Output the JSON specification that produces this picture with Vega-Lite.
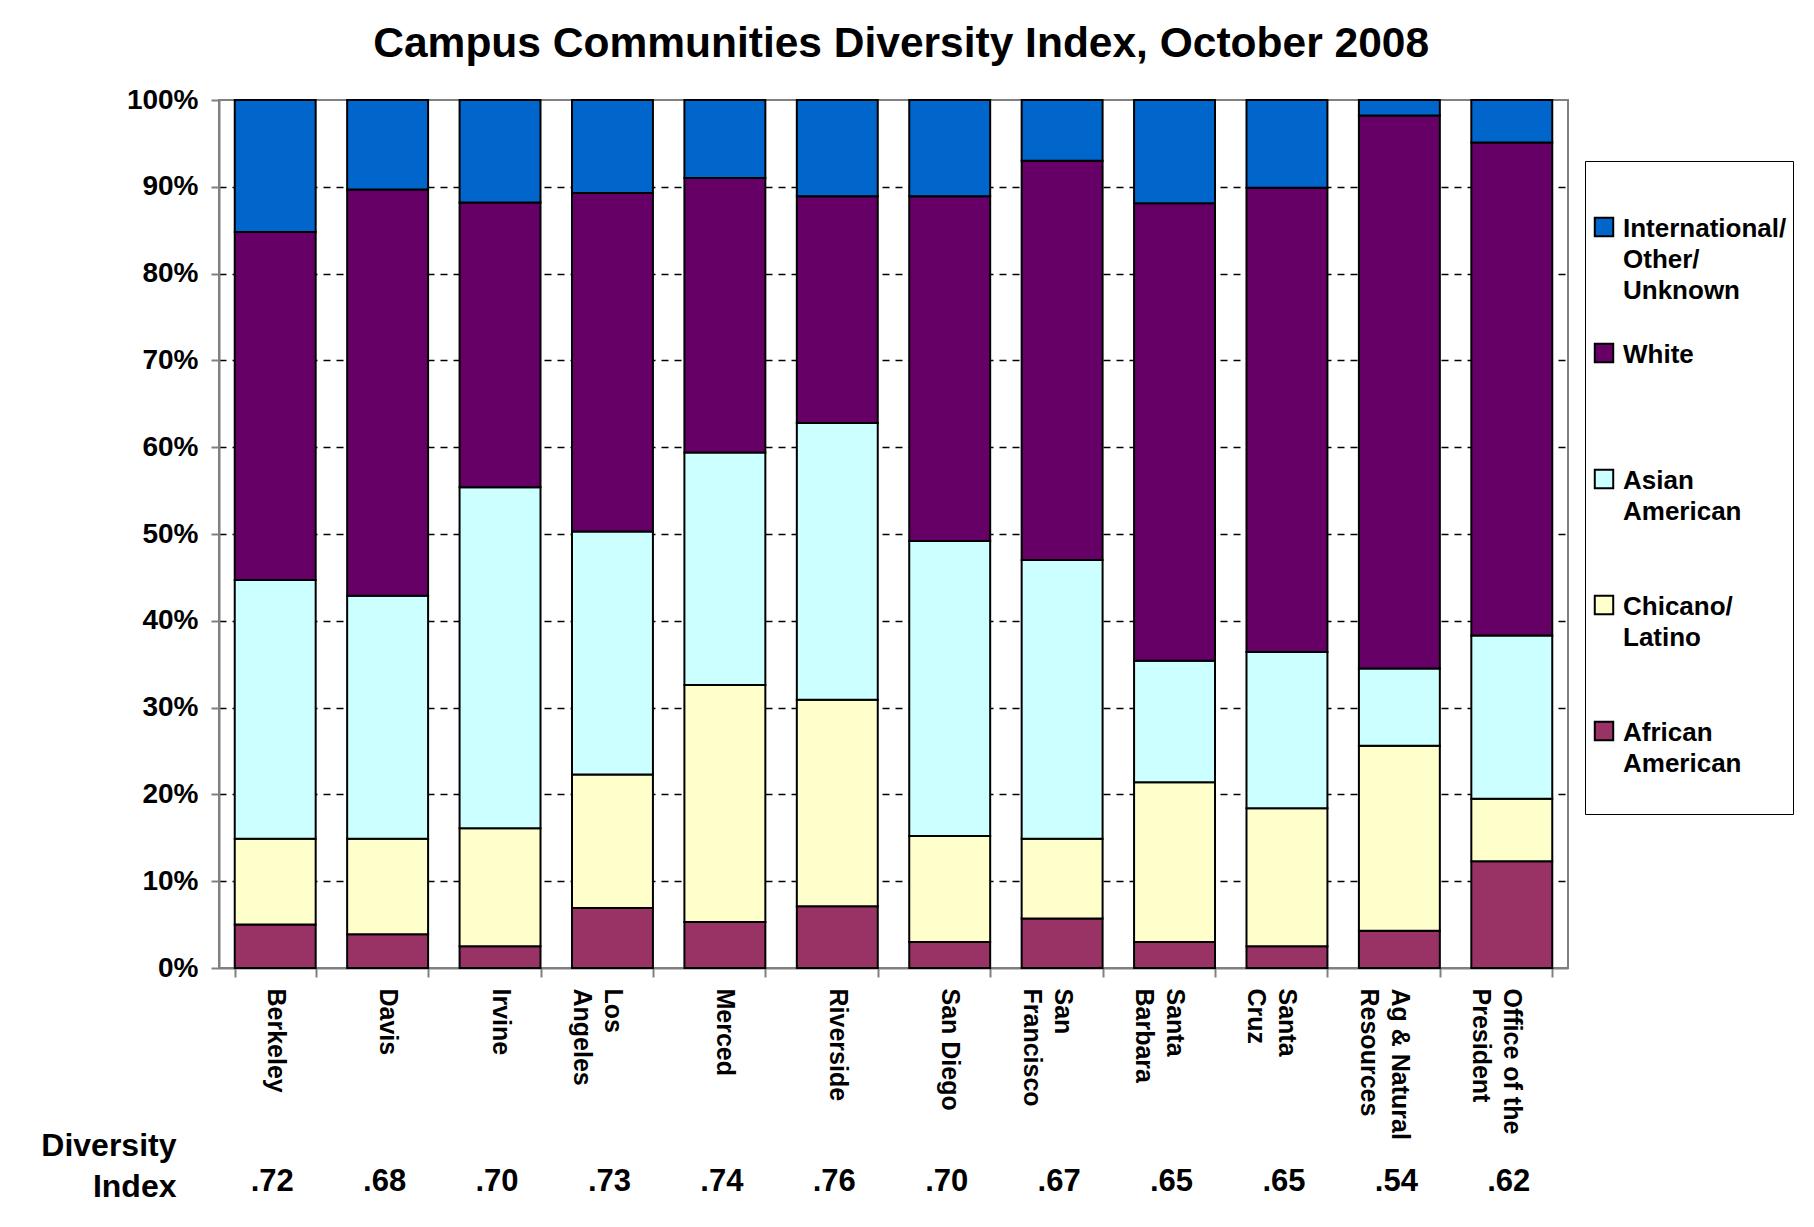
{
  "$schema": "https://vega.github.io/schema/vega-lite/v6.json",
  "padding": {"left": 40, "top": 22, "right": 20, "bottom": 10},
  "background": "#ffffff",
  "title": {"text": "Campus Communities Diversity Index, October 2008", "fontSize": 42.5, "font": "Liberation Sans", "fontWeight": "bold", "anchor": "middle", "offset": 20, "dx": -16, "color": "#000000"},
  "datasets": {
    "comp": [
      {"campus": "Berkeley", "group": "African American", "ord": 1, "pct": 5.0},
      {"campus": "Berkeley", "group": "Chicano/Latino", "ord": 2, "pct": 9.9},
      {"campus": "Berkeley", "group": "Asian American", "ord": 3, "pct": 29.8},
      {"campus": "Berkeley", "group": "White", "ord": 4, "pct": 40.1},
      {"campus": "Berkeley", "group": "International/Other/Unknown", "ord": 5, "pct": 15.2},
      {"campus": "Davis", "group": "African American", "ord": 1, "pct": 3.9},
      {"campus": "Davis", "group": "Chicano/Latino", "ord": 2, "pct": 11.0},
      {"campus": "Davis", "group": "Asian American", "ord": 3, "pct": 28.0},
      {"campus": "Davis", "group": "White", "ord": 4, "pct": 46.8},
      {"campus": "Davis", "group": "International/Other/Unknown", "ord": 5, "pct": 10.3},
      {"campus": "Irvine", "group": "African American", "ord": 1, "pct": 2.5},
      {"campus": "Irvine", "group": "Chicano/Latino", "ord": 2, "pct": 13.6},
      {"campus": "Irvine", "group": "Asian American", "ord": 3, "pct": 39.3},
      {"campus": "Irvine", "group": "White", "ord": 4, "pct": 32.8},
      {"campus": "Irvine", "group": "International/Other/Unknown", "ord": 5, "pct": 11.8},
      {"campus": "Los Angeles", "group": "African American", "ord": 1, "pct": 6.9},
      {"campus": "Los Angeles", "group": "Chicano/Latino", "ord": 2, "pct": 15.4},
      {"campus": "Los Angeles", "group": "Asian American", "ord": 3, "pct": 28.0},
      {"campus": "Los Angeles", "group": "White", "ord": 4, "pct": 39.0},
      {"campus": "Los Angeles", "group": "International/Other/Unknown", "ord": 5, "pct": 10.7},
      {"campus": "Merced", "group": "African American", "ord": 1, "pct": 5.3},
      {"campus": "Merced", "group": "Chicano/Latino", "ord": 2, "pct": 27.3},
      {"campus": "Merced", "group": "Asian American", "ord": 3, "pct": 26.8},
      {"campus": "Merced", "group": "White", "ord": 4, "pct": 31.6},
      {"campus": "Merced", "group": "International/Other/Unknown", "ord": 5, "pct": 9.0},
      {"campus": "Riverside", "group": "African American", "ord": 1, "pct": 7.1},
      {"campus": "Riverside", "group": "Chicano/Latino", "ord": 2, "pct": 23.8},
      {"campus": "Riverside", "group": "Asian American", "ord": 3, "pct": 31.9},
      {"campus": "Riverside", "group": "White", "ord": 4, "pct": 26.1},
      {"campus": "Riverside", "group": "International/Other/Unknown", "ord": 5, "pct": 11.1},
      {"campus": "San Diego", "group": "African American", "ord": 1, "pct": 3.0},
      {"campus": "San Diego", "group": "Chicano/Latino", "ord": 2, "pct": 12.2},
      {"campus": "San Diego", "group": "Asian American", "ord": 3, "pct": 34.0},
      {"campus": "San Diego", "group": "White", "ord": 4, "pct": 39.7},
      {"campus": "San Diego", "group": "International/Other/Unknown", "ord": 5, "pct": 11.1},
      {"campus": "San Francisco", "group": "African American", "ord": 1, "pct": 5.7},
      {"campus": "San Francisco", "group": "Chicano/Latino", "ord": 2, "pct": 9.2},
      {"campus": "San Francisco", "group": "Asian American", "ord": 3, "pct": 32.1},
      {"campus": "San Francisco", "group": "White", "ord": 4, "pct": 46.0},
      {"campus": "San Francisco", "group": "International/Other/Unknown", "ord": 5, "pct": 7.0},
      {"campus": "Santa Barbara", "group": "African American", "ord": 1, "pct": 3.0},
      {"campus": "Santa Barbara", "group": "Chicano/Latino", "ord": 2, "pct": 18.4},
      {"campus": "Santa Barbara", "group": "Asian American", "ord": 3, "pct": 14.0},
      {"campus": "Santa Barbara", "group": "White", "ord": 4, "pct": 52.7},
      {"campus": "Santa Barbara", "group": "International/Other/Unknown", "ord": 5, "pct": 11.9},
      {"campus": "Santa Cruz", "group": "African American", "ord": 1, "pct": 2.5},
      {"campus": "Santa Cruz", "group": "Chicano/Latino", "ord": 2, "pct": 15.9},
      {"campus": "Santa Cruz", "group": "Asian American", "ord": 3, "pct": 18.0},
      {"campus": "Santa Cruz", "group": "White", "ord": 4, "pct": 53.5},
      {"campus": "Santa Cruz", "group": "International/Other/Unknown", "ord": 5, "pct": 10.1},
      {"campus": "Ag & Natural Resources", "group": "African American", "ord": 1, "pct": 4.3},
      {"campus": "Ag & Natural Resources", "group": "Chicano/Latino", "ord": 2, "pct": 21.3},
      {"campus": "Ag & Natural Resources", "group": "Asian American", "ord": 3, "pct": 8.9},
      {"campus": "Ag & Natural Resources", "group": "White", "ord": 4, "pct": 63.7},
      {"campus": "Ag & Natural Resources", "group": "International/Other/Unknown", "ord": 5, "pct": 1.8},
      {"campus": "Office of the President", "group": "African American", "ord": 1, "pct": 12.3},
      {"campus": "Office of the President", "group": "Chicano/Latino", "ord": 2, "pct": 7.2},
      {"campus": "Office of the President", "group": "Asian American", "ord": 3, "pct": 18.8},
      {"campus": "Office of the President", "group": "White", "ord": 4, "pct": 56.8},
      {"campus": "Office of the President", "group": "International/Other/Unknown", "ord": 5, "pct": 4.9}
    ],
    "idx": [
      {"campus": "Berkeley", "row": "Diversity Index", "label": ".72"},
      {"campus": "Davis", "row": "Diversity Index", "label": ".68"},
      {"campus": "Irvine", "row": "Diversity Index", "label": ".70"},
      {"campus": "Los Angeles", "row": "Diversity Index", "label": ".73"},
      {"campus": "Merced", "row": "Diversity Index", "label": ".74"},
      {"campus": "Riverside", "row": "Diversity Index", "label": ".76"},
      {"campus": "San Diego", "row": "Diversity Index", "label": ".70"},
      {"campus": "San Francisco", "row": "Diversity Index", "label": ".67"},
      {"campus": "Santa Barbara", "row": "Diversity Index", "label": ".65"},
      {"campus": "Santa Cruz", "row": "Diversity Index", "label": ".65"},
      {"campus": "Ag & Natural Resources", "row": "Diversity Index", "label": ".54"},
      {"campus": "Office of the President", "row": "Diversity Index", "label": ".62"}
    ]
  },
  "spacing": -12,
  "vconcat": [
    {
      "width": 1349,
      "height": 868,
      "view": {"stroke": "#808080", "strokeWidth": 2},
      "data": {"name": "comp"},
      "mark": {"type": "bar", "stroke": "#000000", "strokeWidth": 2},
      "encoding": {
        "x": {
          "field": "campus", "type": "nominal", "sort": null,
          "scale": {"paddingInner": 0.28, "paddingOuter": 0.14},
          "axis": {
            "title": null, "labelAngle": 90, "labelAlign": "left", "labelBaseline": "middle",
            "labelFontSize": 25, "labelLineHeight": 31, "labelPadding": 11, "labelLimit": 400, "labelOverlap": false,
            "tickSize": 9, "tickBand": "extent", "tickColor": "#808080", "tickWidth": 2,
            "domainColor": "#808080", "domainWidth": 2,
            "labelExpr": "datum.value == 'Los Angeles' ? ['Los', 'Angeles'] : datum.value == 'San Francisco' ? ['San', 'Francisco'] : datum.value == 'Santa Barbara' ? ['Santa', 'Barbara'] : datum.value == 'Santa Cruz' ? ['Santa', 'Cruz'] : datum.value == 'Ag & Natural Resources' ? ['Ag & Natural', 'Resources'] : datum.value == 'Office of the President' ? ['Office of the', 'President'] : datum.value"
          }
        },
        "y": {
          "field": "pct", "type": "quantitative", "stack": "zero",
          "scale": {"domain": [0, 100], "nice": false},
          "axis": {
            "title": null, "values": [0, 10, 20, 30, 40, 50, 60, 70, 80, 90, 100],
            "labelExpr": "datum.value + '%'", "labelFontSize": 28, "labelPadding": 13,
            "tickSize": 8, "tickColor": "#808080", "tickWidth": 2,
            "domainColor": "#808080", "domainWidth": 2,
            "grid": true, "gridColor": "#000000", "gridDash": [7, 6], "gridWidth": 1.5,
            "gridOpacity": {"condition": {"test": "datum.value == 0 || datum.value == 100", "value": 0}, "value": 1}
          }
        },
        "color": {
          "field": "group", "type": "nominal",
          "scale": {
            "domain": ["International/Other/Unknown", "White", "Asian American", "Chicano/Latino", "African American"],
            "range": ["#0066CC", "#660066", "#CCFFFF", "#FFFFCC", "#993366"]
          },
          "legend": {
            "title": " ", "titleFontSize": 20, "titlePadding": 27,
            "orient": "none", "legendX": 1366, "legendY": 61,
            "labelFontSize": 26, "labelFont": "Liberation Sans", "labelFontWeight": "bold", "labelColor": "#000000",
            "labelLimit": 400, "labelBaseline": "top", "labelOffset": 6,
            "symbolType": "square", "symbolSize": 340, "symbolStrokeColor": "#000000", "symbolStrokeWidth": 2,
            "rowPadding": 35, "padding": 6,
            "strokeColor": "#000000", "fillColor": "#ffffff",
            "labelExpr": "datum.value == 'International/Other/Unknown' ? ['International/', 'Other/', 'Unknown'] : datum.value == 'White' ? ['White', '', ''] : datum.value == 'Asian American' ? ['Asian', 'American', ''] : datum.value == 'Chicano/Latino' ? ['Chicano/', 'Latino', ''] : ['African', 'American', '']",
            "encode": {"labels": {"update": {"dy": {"value": -11}, "lineHeight": {"value": 31}}}}
          }
        },
        "order": {"field": "ord", "type": "quantitative"}
      }
    },
    {
      "width": 1349,
      "height": 40,
      "data": {"name": "idx"},
      "mark": {"type": "text", "fontSize": 31, "fontWeight": "bold", "font": "Liberation Sans", "color": "#000000", "baseline": "middle", "dx": -3},
      "encoding": {
        "x": {"field": "campus", "type": "nominal", "sort": null, "scale": {"paddingInner": 0.28, "paddingOuter": 0.14}, "axis": null},
        "y": {
          "field": "row", "type": "nominal",
          "axis": {
            "title": null, "domain": false, "ticks": false, "labelPadding": 43, "labelFontSize": 32,
            "labelLineHeight": 41, "labelOffset": -20, "labelExpr": "['Diversity', 'Index']", "labelAlign": "right", "labelBaseline": "bottom"
          }
        },
        "text": {"field": "label", "type": "nominal"}
      }
    }
  ],
  "config": {
    "font": "Liberation Sans",
    "view": {"stroke": null},
    "axis": {"labelFont": "Liberation Sans", "labelFontWeight": "bold", "labelColor": "#000000"}
  }
}
